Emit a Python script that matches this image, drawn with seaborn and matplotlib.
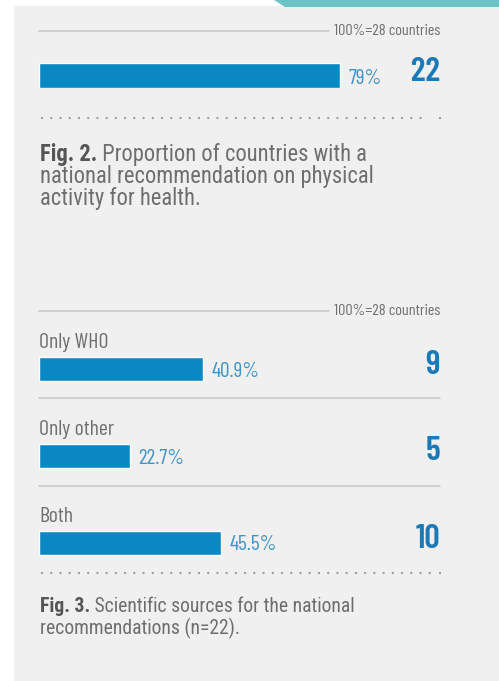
import matplotlib
matplotlib.use("Agg")
import matplotlib.pyplot as plt
from matplotlib.patches import Rectangle, Polygon
from matplotlib.lines import Line2D
import pandas as pd
import seaborn as sns

# data
fig2_label = ["National recommendation"]
fig2_pct = [79]
fig2_count = [22]
total_note = "100%=28 countries"

fig3_labels = ["Only WHO", "Only other", "Both"]
fig3_pct = [40.9, 22.7, 45.5]
fig3_count = [9, 5, 10]

cap2_bold = "Fig. 2."
cap2_rest = [" Proportion of countries with a", "national recommendation on physical", "activity for health."]
cap3_bold = "Fig. 3."
cap3_rest = [" Scientific sources for the national", "recommendations (n=22)."]

sns.set_theme(style="white")
COND = ['Barlow Condensed', 'Roboto Condensed', 'DejaVu Sans']
SEMI = ['Roboto Condensed', 'Barlow Semi Condensed', 'DejaVu Sans']
plt.rcParams['font.family'] = COND

W, H = 499, 681
BLUE = "#0a88c3"
PCT_BLUE = "#3f94c8"
NUM_BLUE = "#1b7ab5"
GRAY_LINE = "#c6c6c6"
DOT = "#9a9a9a"
TXT = "#6f6f6f"
CAP = "#6e6e6e"
CAP_B = "#555555"
PANEL = "#f0f0f0"

fig = plt.figure(figsize=(W / 100, H / 100), dpi=100)
fig.patch.set_facecolor("white")
renderer = fig.canvas.get_renderer()


def fx(x):
    return x / W


def fy(y):
    return 1 - y / H


def fit(t, width):
    # scale the font so that the text is as wide as in the reference
    w = t.get_window_extent(renderer).width
    t.set_fontsize(t.get_fontsize() * width / w)
    return t.get_fontsize()


# background panel and teal tab
fig.patches.append(Rectangle((fx(14), 0), 1 - fx(14), fy(6), transform=fig.transFigure,
                             facecolor=PANEL, edgecolor="none", zorder=-5))
fig.patches.append(Polygon([(fx(274), 1), (1, 1), (1, fy(6.5)), (fx(285), fy(6.5))],
                           transform=fig.transFigure, facecolor="#6cc3c3", edgecolor="none", zorder=-5))


def hline(y, x0, x1, dotted=False):
    if dotted:
        fig.add_artist(Line2D([fx(x0), fx(x1)], [fy(y), fy(y)], color=DOT, lw=1.7,
                              linestyle=(0, (0.01, 3.9)), dash_capstyle="round"))
    else:
        fig.add_artist(Line2D([fx(x0), fx(x1)], [fy(y), fy(y)], color=GRAY_LINE, lw=1.1))


def caption(y, bold, rest, width):
    t = fig.text(fx(40), fy(y), bold, fontsize=12, fontweight="bold", color=CAP_B,
                 family=SEMI, va="baseline")
    t2 = fig.text(fx(40), fy(y), rest[0], fontsize=12, color=CAP, family=SEMI, va="baseline")
    w = t.get_window_extent(renderer).width + t2.get_window_extent(renderer).width
    size = 12 * width / w
    t.set_fontsize(size)
    t2.set_fontsize(size)
    t2.set_x(fx(40) + t.get_window_extent(renderer).width / W)
    for i, line in enumerate(rest[1:]):
        fig.text(fx(40), fy(y + 22 * (i + 1)), line, fontsize=size, color=CAP,
                 family=SEMI, va="baseline")


# font sizes taken from widths measured on the reference
probe = fig.text(0, 0, "40.9%", fontsize=14)
pct_size = fit(probe, 48)
probe.set_text("22")
probe.set_fontweight("semibold")
num_size = fit(probe, 29)
probe.set_text("Only WHO")
probe.set_fontweight("normal")
lab_size = fit(probe, 69)
probe.set_text(total_note)
note_size = fit(probe, 107)
probe.remove()

# ---- Fig. 2 ----
hline(31, 39, 329)
fig.text(fx(440), fy(31), total_note, ha="right", va="center", fontsize=note_size, color=TXT)

ax2 = fig.add_axes([fx(39), fy(88), 381 / W, 25 / H])
df2 = pd.DataFrame({"label": fig2_label, "pct": fig2_pct})
sns.barplot(data=df2, x="pct", y="label", color=BLUE, width=1.0, saturation=1, ax=ax2)
ax2.set_xlim(0, 100)
ax2.set_ylim(0.5, -0.5)
ax2.axis("off")
for p, c in zip(fig2_pct, fig2_count):
    ax2.annotate(f"{p}%", (p, 0.5), xytext=(6, 0), textcoords="offset points",
                 ha="left", va="bottom", fontsize=pct_size, color=PCT_BLUE,
                 annotation_clip=False)
    fig.text(fx(440), fy(88), str(c), ha="right", va="bottom", fontsize=num_size,
             fontweight="semibold", color=NUM_BLUE)

hline(118, 42, 428, dotted=True)
hline(118, 440, 440.5, dotted=True)
caption(161, cap2_bold, cap2_rest, 327)

# ---- Fig. 3 ----
hline(311, 39, 329)
fig.text(fx(440), fy(311), total_note, ha="right", va="center", fontsize=note_size, color=TXT)

step = 87
bar_w = 24 / step
ax3 = fig.add_axes([fx(39), fy(586), 401 / W, (586 - 325) / H])
df3 = pd.DataFrame({"label": fig3_labels, "pct": fig3_pct})
sns.barplot(data=df3, x="pct", y="label", color=BLUE, width=bar_w, saturation=1, ax=ax3)
ax3.set_xlim(0, 100)
ax3.set_ylim(2.5, -0.5)
ax3.axis("off")
for i, (lab, p, c) in enumerate(zip(fig3_labels, fig3_pct, fig3_count)):
    ax3.text(0, i - bar_w / 2 - 0.05, lab, ha="left", va="bottom", fontsize=lab_size, color=TXT)
    ax3.annotate(f"{p}%", (p, i + bar_w / 2), xytext=(6, 0), textcoords="offset points",
                 ha="left", va="bottom", fontsize=pct_size, color=PCT_BLUE,
                 annotation_clip=False)
    ax3.annotate(str(c), (100, i + bar_w / 2), ha="right", va="bottom", fontsize=num_size,
                 fontweight="semibold", color=NUM_BLUE, annotation_clip=False)

hline(398, 39, 440)
hline(486, 39, 440)
hline(573, 42, 436, dotted=True)
hline(573, 440, 440.5, dotted=True)
caption(612, cap3_bold, cap3_rest, 316)

fig.savefig("out.png", dpi=100, facecolor=fig.get_facecolor())
